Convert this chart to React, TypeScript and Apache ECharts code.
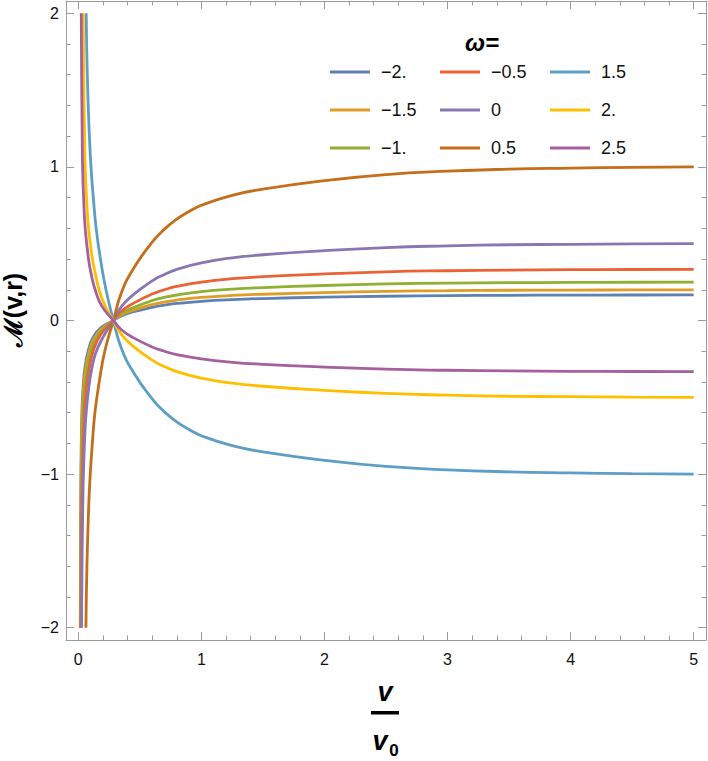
import { useEffect, useRef } from 'react';
import * as echarts from 'echarts';

// ---- data ----
const omegaNames = ['−2.', '−1.5', '−1.', '−0.5', '0', '0.5', '1.5', '2.', '2.5'];
const colors = ['#5E81B5', '#E19C24', '#8FB032', '#EB6235', '#8778B3', '#C56E1A', '#5D9EC7', '#FFBF00', '#A5609D'];

const xTickMajor = [0, 1, 2, 3, 4, 5];
const xTickMinor = [0.2, 0.4, 0.6, 0.8, 1.2, 1.4, 1.6, 1.8, 2.2, 2.4, 2.6, 2.8, 3.2, 3.4, 3.6, 3.8, 4.2, 4.4, 4.6, 4.8];
const yTickMajor = [-2, -1, 0, 1, 2];
const yTickMinor = [-1.8, -1.6, -1.4, -1.2, -0.8, -0.6, -0.4, -0.2, 0.2, 0.4, 0.6, 0.8, 1.2, 1.4, 1.6, 1.8];

const wM2: [number, number][] = [
  [0.016, -2], [0.018, -1.5], [0.02, -1.15], [0.024, -0.8], [0.03, -0.58], [0.04, -0.42], [0.055, -0.3],
  [0.083, -0.19], [0.12, -0.11], [0.18, -0.05], [0.285, 0],
  [0.35, 0.03], [0.45, 0.057], [0.6, 0.086], [0.7, 0.1], [0.8, 0.111], [1, 0.125], [1.25, 0.136], [1.5, 0.143],
  [2, 0.152], [2.5, 0.158], [3, 0.162], [3.5, 0.164], [4, 0.165], [4.5, 0.166], [5, 0.167],
];
const wM15: [number, number][] = [
  [0.017, -2], [0.019, -1.55], [0.022, -1.1], [0.026, -0.82], [0.03, -0.65], [0.04, -0.47], [0.055, -0.34],
  [0.083, -0.22], [0.12, -0.13], [0.18, -0.06], [0.285, 0],
  [0.35, 0.036], [0.45, 0.068], [0.6, 0.103], [0.7, 0.12], [0.8, 0.133], [1, 0.15], [1.25, 0.163], [1.5, 0.171],
  [2, 0.182], [2.5, 0.19], [3, 0.194], [3.5, 0.197], [4, 0.198], [4.5, 0.199], [5, 0.2],
];
const wM1: [number, number][] = [
  [0.018, -2], [0.02, -1.6], [0.023, -1.25], [0.027, -1.0], [0.035, -0.68], [0.045, -0.5], [0.06, -0.38],
  [0.083, -0.27], [0.12, -0.16], [0.18, -0.075], [0.285, 0],
  [0.35, 0.045], [0.45, 0.085], [0.6, 0.129], [0.7, 0.15], [0.8, 0.166], [1, 0.188], [1.25, 0.204], [1.5, 0.214],
  [2, 0.228], [2.5, 0.238], [3, 0.243], [3.5, 0.246], [4, 0.248], [4.5, 0.249], [5, 0.25],
];
const wM05: [number, number][] = [
  [0.02, -2], [0.023, -1.6], [0.027, -1.3], [0.032, -1.02], [0.038, -0.82], [0.046, -0.65], [0.06, -0.48],
  [0.083, -0.34], [0.12, -0.2], [0.18, -0.095], [0.285, 0],
  [0.35, 0.06], [0.45, 0.113], [0.6, 0.172], [0.7, 0.2], [0.8, 0.222], [1, 0.25], [1.25, 0.272], [1.5, 0.285],
  [2, 0.303], [2.5, 0.317], [3, 0.324], [3.5, 0.328], [4, 0.331], [4.5, 0.332], [5, 0.333],
];
const w0: [number, number][] = [
  [0.026, -2], [0.03, -1.6], [0.035, -1.28], [0.04, -1.05], [0.05, -0.8], [0.062, -0.62], [0.083, -0.45],
  [0.11, -0.31], [0.142, -0.21], [0.2, -0.11], [0.285, 0],
  [0.35, 0.09], [0.45, 0.17], [0.6, 0.258], [0.7, 0.3], [0.8, 0.333], [1, 0.375], [1.25, 0.408], [1.5, 0.428],
  [2, 0.455], [2.5, 0.475], [3, 0.486], [3.5, 0.493], [4, 0.496], [4.5, 0.499], [5, 0.5],
];
const w05: [number, number][] = [
  [0.062, -2], [0.07, -1.6], [0.085, -1.2], [0.097, -1.0], [0.114, -0.8], [0.135, -0.6], [0.17, -0.4],
  [0.215, -0.2], [0.285, 0],
  [0.35, 0.18], [0.45, 0.34], [0.6, 0.51], [0.7, 0.595], [0.8, 0.66], [0.9, 0.71], [1, 0.75], [1.25, 0.815], [1.5, 0.855],
  [2, 0.91], [2.5, 0.95], [3, 0.972], [3.5, 0.985], [4, 0.992], [4.5, 0.997], [5, 1.0],
];
const w15: [number, number][] = [
  [0.064, 2], [0.073, 1.6], [0.09, 1.2], [0.103, 1.0], [0.122, 0.8], [0.145, 0.6], [0.18, 0.4],
  [0.225, 0.2], [0.285, 0],
  [0.35, -0.18], [0.45, -0.34], [0.6, -0.51], [0.7, -0.595], [0.8, -0.66], [0.9, -0.71], [1, -0.75], [1.25, -0.815], [1.5, -0.855],
  [2, -0.91], [2.5, -0.95], [3, -0.972], [3.5, -0.985], [4, -0.992], [4.5, -0.997], [5, -1.0],
];
const w2: [number, number][] = [
  [0.04, 2], [0.044, 1.6], [0.05, 1.25], [0.056, 1.0], [0.068, 0.78], [0.083, 0.6], [0.115, 0.4],
  [0.14, 0.3], [0.169, 0.2], [0.22, 0.09], [0.285, 0],
  [0.35, -0.09], [0.45, -0.17], [0.6, -0.258], [0.7, -0.3], [0.8, -0.333], [1, -0.375], [1.25, -0.408], [1.5, -0.428],
  [2, -0.455], [2.5, -0.475], [3, -0.486], [3.5, -0.493], [4, -0.496], [4.5, -0.499], [5, -0.5],
];
const w25: [number, number][] = [
  [0.024, 2], [0.027, 1.6], [0.031, 1.25], [0.035, 1.0], [0.044, 0.78], [0.056, 0.6], [0.083, 0.4],
  [0.105, 0.3], [0.137, 0.2], [0.19, 0.095], [0.285, 0],
  [0.35, -0.06], [0.45, -0.113], [0.6, -0.172], [0.7, -0.2], [0.8, -0.222], [1, -0.25], [1.25, -0.272], [1.5, -0.285],
  [2, -0.303], [2.5, -0.317], [3, -0.324], [3.5, -0.328], [4, -0.331], [4.5, -0.332], [5, -0.333],
];
const seriesData = [wM2, wM15, wM1, wM05, w0, w05, w15, w2, w25];

const FONT = '"Liberation Sans", Arial, sans-serif';
const FRAME = '#9a9a9a';
const LABEL = '#111';

function fmt(v: number) {
  return String(v).replace('-', '−');
}

export default function App() {
  const ref = useRef<HTMLDivElement>(null);
  useEffect(() => {
    if (!ref.current) return;
    const chart = echarts.init(ref.current, undefined, { renderer: 'svg' });

    const baseX = { type: 'value' as const, min: -0.1, max: 5.1, splitLine: { show: false } };
    const baseY = { type: 'value' as const, min: -2.08, max: 2.08, splitLine: { show: false } };
    const line = { show: true, onZero: false, lineStyle: { color: FRAME, width: 1 } };
    const noLine = { show: false, onZero: false };
    const tick = (vals: number[], len: number) => ({
      show: true, inside: true, length: len, customValues: vals, lineStyle: { color: FRAME, width: 1 },
    });

    chart.setOption({
      animation: false,
      grid: { left: 66, top: 1, width: 640, height: 639, outerBoundsMode: 'none' },
      xAxis: [
        {
          ...baseX, position: 'bottom', axisLine: line, axisTick: tick(xTickMajor, 8),
          axisLabel: { show: true, customValues: xTickMajor, margin: 11, color: LABEL, fontSize: 16, fontFamily: FONT, formatter: fmt },
        },
        { ...baseX, position: 'bottom', axisLine: noLine, axisTick: tick(xTickMinor, 4.5), axisLabel: { show: false } },
        { ...baseX, position: 'top', axisLine: line, axisTick: tick(xTickMajor, 8), axisLabel: { show: false } },
        { ...baseX, position: 'top', axisLine: noLine, axisTick: tick(xTickMinor, 4.5), axisLabel: { show: false } },
      ],
      yAxis: [
        {
          ...baseY, position: 'left', axisLine: line, axisTick: tick(yTickMajor, 8),
          axisLabel: { show: true, customValues: yTickMajor, margin: 7, color: LABEL, fontSize: 16, fontFamily: FONT, formatter: fmt },
        },
        { ...baseY, position: 'left', axisLine: noLine, axisTick: tick(yTickMinor, 4.5), axisLabel: { show: false } },
        { ...baseY, position: 'right', axisLine: line, axisTick: tick(yTickMajor, 8), axisLabel: { show: false } },
        { ...baseY, position: 'right', axisLine: noLine, axisTick: tick(yTickMinor, 4.5), axisLabel: { show: false } },
      ],
      legend: [0, 1, 2].map((c) => ({
        data: omegaNames.slice(c * 3, c * 3 + 3),
        orient: 'vertical',
        left: [330, 440, 550][c],
        top: 61,
        padding: 0,
        itemWidth: 40,
        itemHeight: 3,
        itemGap: 16,
        icon: 'rect',
        selectedMode: false,
        textStyle: { fontSize: 18, lineHeight: 22, color: LABEL, fontFamily: FONT, padding: [0, 0, 0, 6] },
      })),
      series: seriesData.map((d, i) => ({
        name: omegaNames[i],
        type: 'line',
        data: d,
        xAxisIndex: 0,
        yAxisIndex: 0,
        showSymbol: false,
        symbol: 'none',
        smooth: 0.5,
        color: colors[i],
        lineStyle: { color: colors[i], width: 2.8 },
        emphasis: { disabled: true },
      })),
      graphic: [
        {
          type: 'text', x: 482, y: 42,
          style: { text: 'ω=', font: `italic bold 24px ${FONT}`, fill: '#000', textAlign: 'center', textVerticalAlign: 'middle' },
        },
        {
          type: 'text', x: 13, y: 310, rotation: Math.PI / 2,
          style: { text: 'ℳ(v,r)', font: `bold 25px ${FONT}`, fill: '#000', textAlign: 'center', textVerticalAlign: 'middle' },
        },
        {
          type: 'text', x: 385, y: 692,
          style: { text: 'v', font: `italic bold 27px ${FONT}`, fill: '#000', textAlign: 'center', textVerticalAlign: 'middle' },
        },
        { type: 'rect', shape: { x: 371, y: 711, width: 28, height: 3.5 }, style: { fill: '#000' } },
        {
          type: 'text', x: 380, y: 741,
          style: { text: 'v', font: `italic bold 27px ${FONT}`, fill: '#000', textAlign: 'center', textVerticalAlign: 'middle' },
        },
        {
          type: 'text', x: 394, y: 750,
          style: { text: '0', font: `bold 17px ${FONT}`, fill: '#000', textAlign: 'center', textVerticalAlign: 'middle' },
        },
      ],
    });
    return () => chart.dispose();
  }, []);

  return <div ref={ref} style={{ position: 'absolute', left: 0, top: 0, width: 708, height: 761 }} />;
}
